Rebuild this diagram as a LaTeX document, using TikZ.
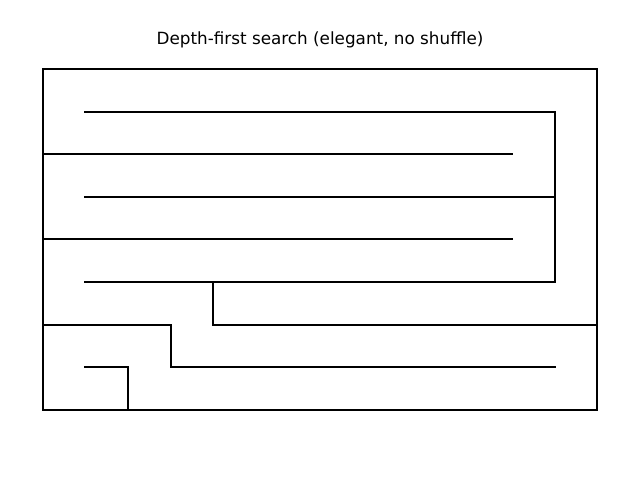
\documentclass[tikz,border=0pt]{standalone}
\usepackage{fontspec}
\setmainfont{DejaVu Sans}
\begin{document}
\begin{tikzpicture}[x=1pt,y=-1pt,wall/.style={line width=2pt,line cap=rect,line join=miter}]
\useasboundingbox (0,0) rectangle (640,480);
\node[font=\fontsize{16.8}{20}\selectfont] (title) at (320,39.5) {Depth-first search (elegant, no shuffle)};
\draw[wall] (43,69) rectangle (597,410);
\draw[wall] (85,111.6) -- (555,111.6) -- (555,282) -- (85,282);
\draw[wall] (43,154.2) -- (512,154.2);
\draw[wall] (85,196.8) -- (555,196.8);
\draw[wall] (43,239.4) -- (512,239.4);
\draw[wall] (213.4,282) -- (213.4,324.6) -- (597,324.6);
\draw[wall] (43,324.6) -- (170.8,324.6) -- (170.8,367.2) -- (555,367.2);
\draw[wall] (85,367.2) -- (128.2,367.2) -- (128.2,410);
\end{tikzpicture}
\end{document}
